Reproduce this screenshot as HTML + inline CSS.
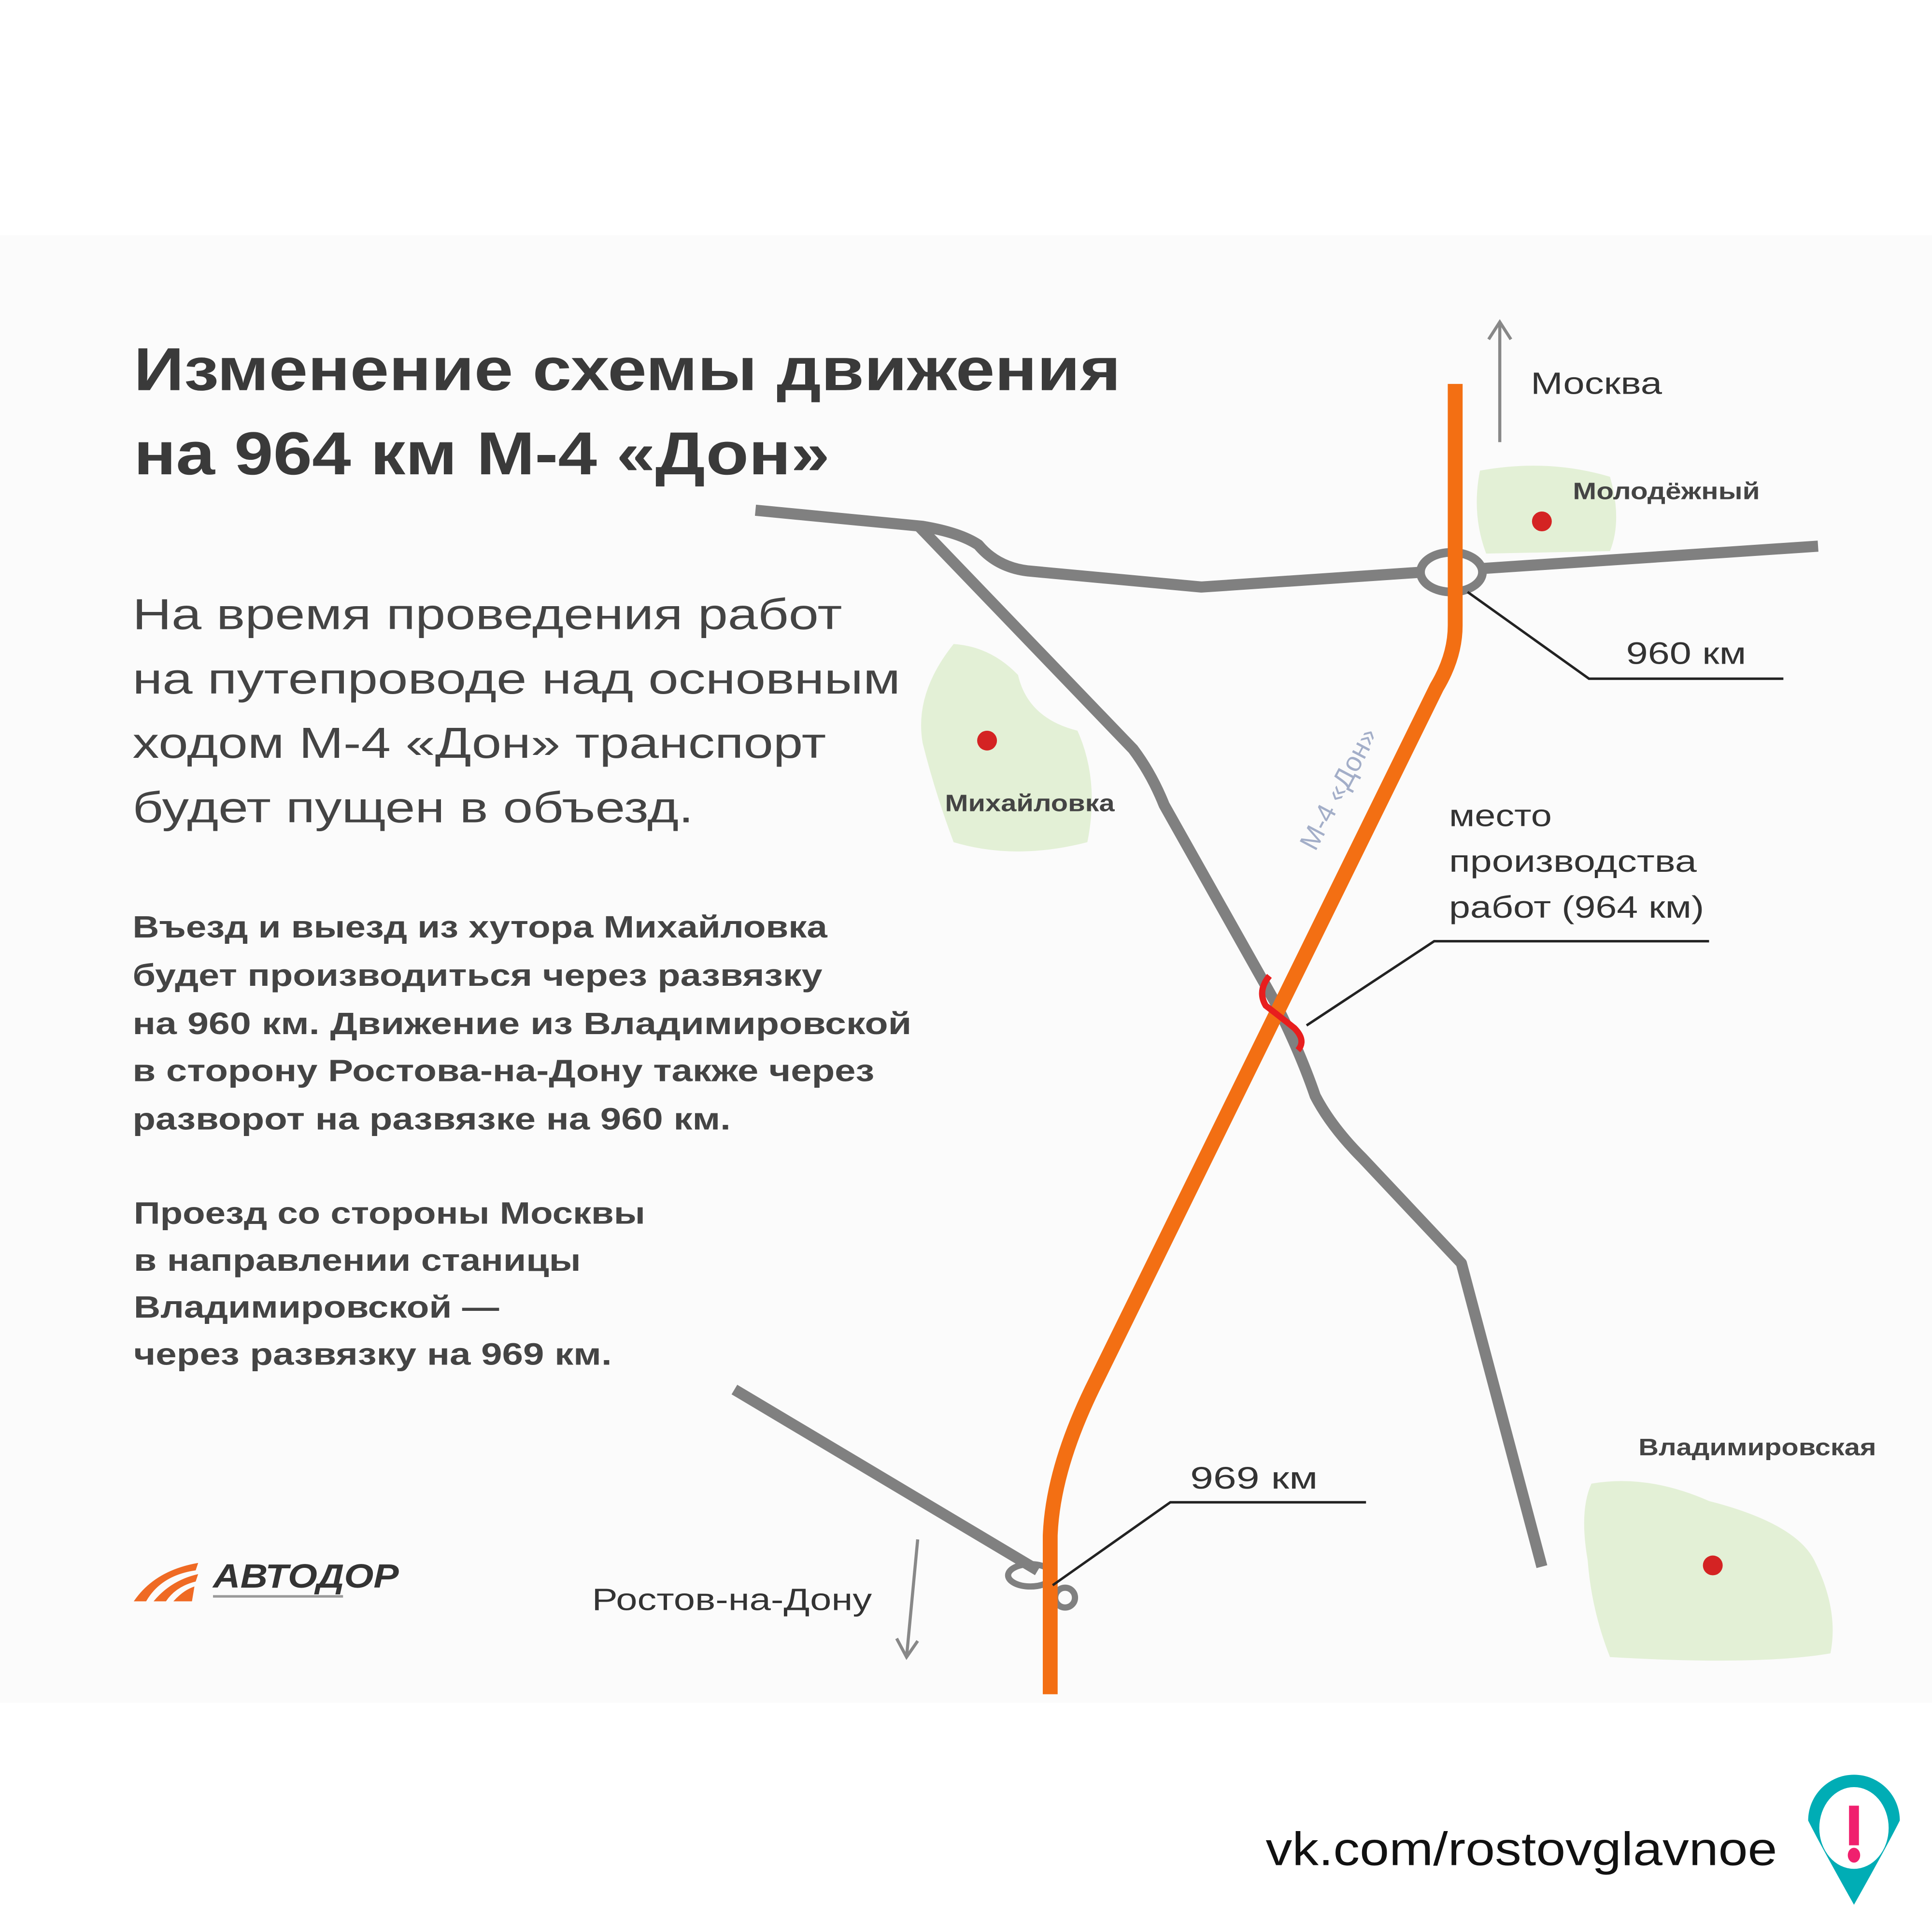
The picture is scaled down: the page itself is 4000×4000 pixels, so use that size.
<!DOCTYPE html>
<html><head><meta charset="utf-8"><style>html,body{margin:0;padding:0;background:#fff}svg{display:block}</style></head>
<body>
<svg width="4000" height="4000" viewBox="0 0 1560 1560" xmlns="http://www.w3.org/2000/svg" font-family="'Liberation Sans', sans-serif">
<rect x="0" y="0" width="1560" height="1560" fill="#fff"/>
<rect x="0" y="190" width="1560" height="1185" fill="#fbfbfb"/>

<path d="M1195 380 Q1250 370 1300 385 Q1310 420 1300 445 L1200 447 Q1188 415 1195 380Z" fill="#e3f0d6"/>
<path d="M770 520 Q800 522 822 545 Q830 580 870 590 Q888 630 878 680 Q820 695 770 680 Q755 640 745 600 Q738 560 770 520Z" fill="#e3f0d6"/>
<path d="M1285 1198 Q1330 1190 1380 1212 Q1450 1230 1465 1260 Q1485 1300 1478 1335 Q1420 1345 1300 1338 Q1285 1300 1282 1260 Q1275 1220 1285 1198Z" fill="#e3f0d6"/>
<circle cx="1245" cy="421" r="8" fill="#d42323"/>
<circle cx="797" cy="598" r="8" fill="#d42323"/>
<circle cx="1383" cy="1264" r="8" fill="#d42323"/>

<g fill="none" stroke="#808080" stroke-width="9" stroke-linejoin="round" stroke-linecap="butt">
<path d="M610 412 L745 425 Q775 430 790 440 Q805 458 830 461 L970 474 L1148 462"/>
<path d="M1198 459 L1468 441"/>
<path d="M742 425 L915 605 Q930 625 940 650 L1030 810 Q1050 850 1062 885 Q1075 910 1100 935 L1180 1020 L1245 1265"/>
<path d="M593 1122 L838 1268"/>
<ellipse cx="1172" cy="462" rx="25" ry="16" stroke-width="7"/>
<ellipse cx="832" cy="1272" rx="18" ry="9" stroke-width="5"/>
<circle cx="860" cy="1290" r="8" stroke-width="5"/>
</g>

<path d="M1175 310 L1175 505 Q1175 530 1160 555 L885 1115 Q850 1185 848 1240 L848 1368" fill="none" stroke="#f36f13" stroke-width="12"/>

<path d="M1025 788 Q1015 800 1022 812 Q1035 822 1045 830 Q1055 840 1048 848" fill="none" stroke="#e81e1e" stroke-width="5"/>

<g fill="none" stroke="#222" stroke-width="2">
<path d="M1185 478 L1283 548 L1440 548"/>
<path d="M1055 828 L1158 760 L1380 760"/>
<path d="M850 1280 L945 1213 L1103 1213"/>
</g>

<g fill="none" stroke="#888" stroke-width="2.5">
<path d="M1211 357 L1211 262 M1202 274 L1211 260 L1220 274"/>
<path d="M741 1243 L732 1338 M724 1323 L732 1338 L741 1325"/>
</g>

<g fill="#3a3a3a" font-weight="bold" lengthAdjust="spacingAndGlyphs">
<text x="108" y="315" font-size="49" textLength="797" lengthAdjust="spacingAndGlyphs">Изменение схемы движения</text>
<text x="108" y="383" font-size="49" textLength="562" lengthAdjust="spacingAndGlyphs">на 964 км М-4 «Дон»</text>
</g>
<g fill="#444" font-size="35">
<text x="107" y="508" textLength="573" lengthAdjust="spacingAndGlyphs">На время проведения работ</text>
<text x="107" y="560" textLength="620" lengthAdjust="spacingAndGlyphs">на путепроводе над основным</text>
<text x="107" y="612" textLength="560" lengthAdjust="spacingAndGlyphs">ходом М-4 «Дон» транспорт</text>
<text x="107" y="664" textLength="453" lengthAdjust="spacingAndGlyphs">будет пущен в объезд.</text>
</g>
<g fill="#444" font-size="25" font-weight="bold">
<text x="107" y="757" textLength="561" lengthAdjust="spacingAndGlyphs">Въезд и выезд из хутора Михайловка</text>
<text x="107" y="796" textLength="557" lengthAdjust="spacingAndGlyphs">будет производиться через развязку</text>
<text x="107" y="835" textLength="629" lengthAdjust="spacingAndGlyphs">на 960 км. Движение из Владимировской</text>
<text x="107" y="873" textLength="599" lengthAdjust="spacingAndGlyphs">в сторону Ростова-на-Дону также через</text>
<text x="107" y="912" textLength="483" lengthAdjust="spacingAndGlyphs">разворот на развязке на 960 км.</text>
<text x="108" y="988" textLength="413" lengthAdjust="spacingAndGlyphs">Проезд со стороны Москвы</text>
<text x="108" y="1026" textLength="361" lengthAdjust="spacingAndGlyphs">в направлении станицы</text>
<text x="108" y="1064" textLength="295" lengthAdjust="spacingAndGlyphs">Владимировской —</text>
<text x="108" y="1102" textLength="386" lengthAdjust="spacingAndGlyphs">через развязку на 969 км.</text>
</g>
<g fill="#333" font-size="25">
<text x="1236" y="318" textLength="106" lengthAdjust="spacingAndGlyphs">Москва</text>
<text x="1313" y="536" textLength="97" lengthAdjust="spacingAndGlyphs">960 км</text>
<text x="1170" y="667" textLength="83" lengthAdjust="spacingAndGlyphs">место</text>
<text x="1170" y="704" textLength="200" lengthAdjust="spacingAndGlyphs">производства</text>
<text x="1170" y="741" textLength="206" lengthAdjust="spacingAndGlyphs">работ (964 км)</text>
<text x="961" y="1202" textLength="103" lengthAdjust="spacingAndGlyphs">969  км</text>
<text x="478" y="1300" textLength="226" lengthAdjust="spacingAndGlyphs">Ростов-на-Дону</text>
</g>
<g fill="#444" font-size="19" font-weight="bold">
<text x="1270" y="403" textLength="151" lengthAdjust="spacingAndGlyphs">Молодёжный</text>
<text x="763" y="655" textLength="137" lengthAdjust="spacingAndGlyphs">Михайловка</text>
<text x="1323" y="1175" textLength="192" lengthAdjust="spacingAndGlyphs">Владимировская</text>
</g>
<text x="0" y="0" font-size="22" fill="#a3aec8" transform="translate(1062 688) rotate(-62)">М-4 «Дон»</text>

<g fill="#ef6a24">
<path d="M108 1293 Q125 1268 160 1262 L158 1268 Q130 1272 118 1293Z"/>
<path d="M124 1293 Q138 1276 160 1271 L158 1277 Q142 1281 134 1293Z"/>
<path d="M140 1293 Q148 1284 157 1281 L155 1293Z"/>
</g>
<text x="172" y="1282" font-size="27" font-weight="bold" font-style="italic" fill="#333" textLength="150" lengthAdjust="spacingAndGlyphs">АВТОДОР</text>
<rect x="172" y="1288" width="105" height="2" fill="#999"/>

<text x="1022" y="1506" font-size="38" fill="#111" textLength="413" lengthAdjust="spacingAndGlyphs">vk.com/rostovglavnoe</text>
<path d="M1497 1538 Q1470 1490 1460 1470 A37 37 0 1 1 1534 1470 Q1524 1490 1497 1538Z" fill="#00adb5"/>
<ellipse cx="1497" cy="1476" rx="28" ry="33" fill="#fff"/>
<rect x="1493" y="1458" width="8" height="32" fill="#f0206e"/>
<ellipse cx="1497" cy="1498" rx="5" ry="6" fill="#f0206e"/>
</svg>
</body></html>
